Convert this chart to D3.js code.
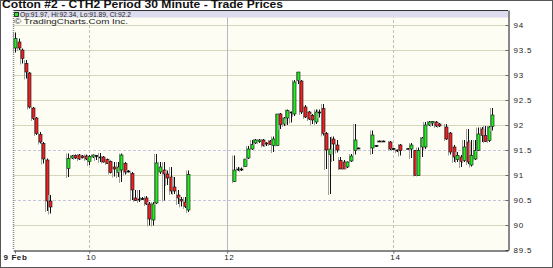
<!DOCTYPE html>
<html>
<head>
<meta charset="utf-8">
<script src="https://cdn.jsdelivr.net/npm/d3@7"></script>
<style>
    body { margin: 0; background: #fff; }
    svg { display: block; }
    text { font-family: "Liberation Sans", Arial, sans-serif; }
</style>
</head>
<body>
<svg id="chart" width="553" height="268"></svg>
<script>
// 30 minute bars, position is the bar slot on the time axis
const slots = [
    0, 1, 2, 3, 4, 5, 6, 7, 8, 9, 10,
    15, 16, 17, 18, 19, 20, 21, 22, 23, 24, 25, 26, 27, 28, 29, 30, 31, 32, 33, 34, 35, 36, 37, 38, 39, 40, 41, 42, 43, 44, 45, 46, 47, 48, 49,
    62, 63, 64, 65, 66, 67, 68, 69, 70, 71, 72, 73, 74, 75, 76, 77, 78, 79, 80, 81, 82, 83, 84, 85, 86, 87, 88, 89, 90, 91, 92, 93, 94, 95, 96, 97,
    101, 102, 103, 104, 106, 107, 108, 109, 111, 112, 113, 114, 115, 116, 117, 118, 119, 120, 122, 123, 124, 125, 126, 127, 128, 129, 130, 131, 132, 133, 134, 135
];
const opens = [
    93.54, 93.66, 93.50, 93.23, 93.04, 92.34, 92.14, 91.81, 91.63, 91.30, 90.48,
    91.13, 91.34, 91.39, 91.40, 91.38, 91.38, 91.27, 91.36, 91.38, 91.36, 91.36, 91.31, 91.27, 91.16, 91.05, 91.10, 91.23, 91.08, 91.03, 90.54, 90.52, 90.53, 90.54, 90.42, 90.10, 90.44, 91.06, 91.10, 91.02, 90.96, 90.76, 90.60, 90.51, 90.46, 90.30,
    90.87, 91.12, 91.11, 91.17, 91.34, 91.52, 91.64, 91.67, 91.70, 91.64, 91.68, 91.59, 91.59, 92.22, 92.02, 92.14, 92.26, 92.22, 92.89, 92.88, 92.36, 92.26, 92.19, 92.06, 92.26, 92.33, 91.83, 91.41, 91.72, 91.60, 91.29, 91.26, 91.16, 91.28, 91.49, 91.54,
    91.54, 91.58, 91.68, 91.68, 91.66, 91.53, 91.50, 91.60, 91.53, 91.52, 91.49, 90.99, 91.56, 91.56, 92.00, 92.04, 92.06, 92.02, 91.96, 91.84, 91.56, 91.31, 91.36, 91.29, 91.66, 91.20, 91.32, 91.49, 91.92, 91.79, 91.69, 91.97
];
const highs = [
    93.85, 93.73, 93.53, 93.30, 93.06, 92.36, 92.16, 91.86, 91.66, 91.33, 90.60,
    91.43, 91.40, 91.41, 91.42, 91.40, 91.41, 91.40, 91.41, 91.40, 91.44, 91.38, 91.33, 91.29, 91.26, 91.26, 91.43, 91.26, 91.10, 91.06, 90.70, 90.70, 90.56, 90.58, 90.46, 90.46, 91.42, 91.26, 91.26, 91.09, 91.16, 90.96, 90.70, 90.56, 90.56, 91.09,
    91.39, 91.16, 91.15, 91.32, 91.58, 91.70, 91.72, 91.72, 91.72, 91.66, 91.70, 91.77, 92.22, 92.24, 92.16, 92.31, 92.27, 92.90, 93.06, 92.90, 92.40, 92.28, 92.22, 92.31, 92.31, 92.42, 91.86, 91.76, 91.77, 91.70, 91.36, 91.30, 91.27, 91.42, 92.02, 91.55,
    91.89, 91.60, 91.69, 91.69, 91.68, 91.54, 91.51, 91.62, 91.54, 91.64, 91.50, 91.55, 91.76, 92.06, 92.08, 92.08, 92.08, 92.04, 92.02, 91.86, 91.60, 91.46, 91.40, 91.70, 91.92, 91.70, 91.70, 91.95, 91.96, 91.98, 91.98, 92.34
];
const lows = [
    93.45, 93.50, 93.23, 92.93, 92.33, 92.10, 91.80, 91.63, 91.23, 90.28, 90.23,
    90.96, 91.32, 91.32, 91.30, 91.33, 91.30, 91.20, 91.34, 91.30, 91.26, 91.25, 91.22, 91.03, 90.97, 90.96, 90.86, 91.01, 91.05, 90.50, 90.48, 90.46, 90.50, 90.40, 89.99, 89.99, 90.42, 91.02, 90.49, 90.80, 90.62, 90.62, 90.42, 90.37, 90.34, 90.26,
    90.86, 91.08, 91.08, 91.17, 91.32, 91.50, 91.62, 91.64, 91.57, 91.58, 91.60, 91.46, 91.59, 91.92, 91.98, 92.00, 92.05, 92.18, 92.82, 92.22, 92.14, 92.10, 92.02, 92.02, 92.15, 91.79, 91.12, 90.62, 91.28, 91.45, 91.12, 91.12, 91.14, 91.26, 91.41, 91.53,
    91.42, 91.56, 91.67, 91.67, 91.50, 91.50, 91.46, 91.39, 91.52, 91.34, 90.99, 90.99, 91.36, 91.52, 91.98, 91.98, 91.96, 91.96, 91.70, 91.41, 91.26, 91.26, 91.16, 91.26, 91.22, 91.17, 91.30, 91.48, 91.66, 91.66, 91.66, 91.89
];
const closes = [
    93.73, 93.54, 93.33, 93.06, 92.36, 92.13, 91.83, 91.66, 91.32, 90.48, 90.36,
    91.33, 91.38, 91.34, 91.32, 91.35, 91.32, 91.37, 91.40, 91.39, 91.36, 91.26, 91.23, 91.05, 91.12, 91.16, 91.40, 91.06, 91.07, 90.70, 90.49, 90.51, 90.52, 90.42, 90.12, 90.42, 91.24, 91.16, 91.02, 90.94, 90.68, 90.68, 90.54, 90.48, 90.37, 91.01,
    91.10, 91.12, 91.12, 91.32, 91.52, 91.61, 91.70, 91.70, 91.59, 91.62, 91.61, 91.72, 92.22, 92.01, 92.14, 92.29, 92.25, 92.86, 93.06, 92.26, 92.16, 92.12, 92.10, 92.26, 92.26, 91.83, 91.50, 91.52, 91.62, 91.50, 91.12, 91.12, 91.26, 91.38, 91.70, 91.54,
    91.80, 91.59, 91.68, 91.68, 91.52, 91.52, 91.49, 91.49, 91.53, 91.60, 90.99, 91.49, 91.74, 92.00, 92.06, 92.07, 91.98, 91.98, 91.72, 91.46, 91.36, 91.39, 91.27, 91.56, 91.26, 91.39, 91.49, 91.82, 91.79, 91.67, 91.96, 92.20
];

// date ticks on the time axis
const dateTickSlots = [0, 21, 60, 107];
const dateTickLabels = ["9 Feb", "10", "12", "14"];
const dateGridStyles = ["none", "dashed", "solid", "dashed"];

const priceTicks = [89.5, 90, 90.5, 91, 91.5, 92, 92.5, 93, 93.5, 94];
const dashedPrices = [90.5, 91.5];

const title = "Cotton #2 - CTH2 Period 30 Minute - Trade Prices";
const lastBar = {op: "91.97", hi: "92.34", lo: "91.89", cl: "92.2"};

const PLOT_LEFT = 13, PLOT_RIGHT = 508, PLOT_TOP = 10, PLOT_BOTTOM = 250;

let svg = d3.select("#chart");

let x = d3.scaleLinear().domain([-0.5, 139.4]).range([PLOT_LEFT + 0.2, PLOT_RIGHT]);
let y = d3.scaleLinear().domain([89.5, 94.3]).range([PLOT_BOTTOM, PLOT_TOP]);

let bars = slots.map((s, i) => ({slot: s, o: opens[i], h: highs[i], l: lows[i], c: closes[i]}));

// outer frame
svg.append("rect")
    .attr("x", 0.5).attr("y", 0.5)
    .attr("width", 552).attr("height", 267)
    .attr("fill", "#fff")
    .attr("stroke", "#555");

svg.append("text")
    .attr("x", 2).attr("y", 8)
    .attr("font-size", 10)
    .attr("font-weight", "bold")
    .attr("fill", "#111")
    .attr("textLength", 281)
    .attr("lengthAdjust", "spacingAndGlyphs")
    .text(title);

// plot background
svg.append("rect")
    .attr("x", PLOT_LEFT).attr("y", PLOT_TOP)
    .attr("width", PLOT_RIGHT - PLOT_LEFT).attr("height", PLOT_BOTTOM - PLOT_TOP)
    .attr("fill", "#fdfdf4");

// horizontal grid
svg.append("g")
    .selectAll("line")
    .data(priceTicks.filter(p => p > 89.5))
    .enter()
    .append("line")
        .attr("x1", PLOT_LEFT).attr("x2", PLOT_RIGHT)
        .attr("y1", d => Math.round(y(d)) + 0.5)
        .attr("y2", d => Math.round(y(d)) + 0.5)
        .attr("stroke", d => dashedPrices.includes(d) ? "#c4c4dc" : "#d6d6bc")
        .attr("stroke-dasharray", d => dashedPrices.includes(d) ? "3,2" : null);

// vertical grid at the date ticks
svg.append("g")
    .selectAll("line")
    .data(dateTickSlots.map((s, i) => ({slot: s, style: dateGridStyles[i]})).filter(d => d.style !== "none"))
    .enter()
    .append("line")
        .attr("x1", d => Math.round(x(d.slot)) + 0.5)
        .attr("x2", d => Math.round(x(d.slot)) + 0.5)
        .attr("y1", PLOT_TOP).attr("y2", PLOT_BOTTOM)
        .attr("stroke", d => d.style === "dashed" ? "#c0c0c0" : "#b8b8c4")
        .attr("stroke-dasharray", d => d.style === "dashed" ? "3,2" : null);

// legend band
svg.append("rect")
    .attr("x", PLOT_LEFT + 1).attr("y", PLOT_TOP + 1)
    .attr("width", PLOT_RIGHT - PLOT_LEFT - 1).attr("height", 6.5)
    .attr("fill", "#dcdcee");

svg.append("rect")
    .attr("x", 14.5).attr("y", 12.5)
    .attr("width", 4).attr("height", 4)
    .attr("fill", "#2ee02e")
    .attr("stroke", "#111").attr("stroke-width", 0.8);

svg.append("text")
    .attr("x", 20).attr("y", 16.8)
    .attr("font-size", 7)
    .attr("fill", "#222")
    .attr("textLength", 111)
    .attr("lengthAdjust", "spacingAndGlyphs")
    .text(`Op:${lastBar.op}, Hi:${lastBar.hi}, Lo:${lastBar.lo}, Cl:${lastBar.cl}`);

svg.append("text")
    .attr("x", 14).attr("y", 24.3)
    .attr("font-size", 7)
    .attr("fill", "#222")
    .attr("textLength", 114)
    .attr("lengthAdjust", "spacingAndGlyphs")
    .text("\u00a9 TradingCharts.Com Inc.");

// candles
let candle = svg.append("g")
    .selectAll("g")
    .data(bars)
    .enter()
    .append("g")
        .attr("transform", d => "translate(" + Math.round(x(d.slot)) + ",0)");

//grey shadow left of each bar
candle.append("line")
    .attr("x1", -1.5).attr("x2", -1.5)
    .attr("y1", d => y(d.h))
    .attr("y2", d => y(d.l) + 1)
    .attr("stroke", "#a0a0a0")
    .attr("stroke-width", 1);

candle.append("line")
    .attr("x1", 0.5).attr("x2", 0.5)
    .attr("y1", d => y(d.h))
    .attr("y2", d => y(d.l))
    .attr("stroke", "#111")
    .attr("stroke-width", 1);

candle.append("rect")
    .attr("x", -1)
    .attr("width", 3)
    .attr("y", d => y(Math.max(d.o, d.c)))
    .attr("height", d => Math.max(1, Math.abs(y(d.o) - y(d.c))))
    .attr("fill", d => {
        if (Math.abs(d.o - d.c) < 0.015) return "#111";
        return d.c > d.o ? "#22ee22" : "#ee2222";
    })
    .attr("stroke", "#111")
    .attr("stroke-width", 0.6);

// plot border
svg.append("line")
    .attr("x1", PLOT_LEFT).attr("x2", PLOT_RIGHT)
    .attr("y1", PLOT_TOP + 0.5).attr("y2", PLOT_TOP + 0.5)
    .attr("stroke", "#333");
svg.append("line")
    .attr("x1", PLOT_LEFT + 0.5).attr("x2", PLOT_LEFT + 0.5)
    .attr("y1", PLOT_TOP).attr("y2", PLOT_BOTTOM)
    .attr("stroke", "#888")
    .attr("stroke-width", 1.5)
    .attr("stroke-dasharray", "1,1");

// price axis on the right
let yAxis = d3.axisRight(y)
    .tickValues(priceTicks)
    .tickFormat(d3.format("~g"))
    .tickSizeInner(-3)
    .tickSizeOuter(0)
    .tickPadding(5);

svg.append("g")
    .attr("transform", "translate(" + (PLOT_RIGHT + 0.5) + ",0)")
    .call(yAxis)
    .call(g => g.select(".domain").attr("stroke", "#111"))
    .call(g => g.selectAll(".tick line").attr("stroke", "#666"))
    .call(g => g.selectAll("text")
        .attr("font-family", "Liberation Sans, Arial, sans-serif")
        .attr("font-size", 8)
        .attr("letter-spacing", 0.8)
        .attr("fill", "#222"));

// time axis at the bottom
let xAxis = d3.axisBottom(x)
    .tickValues(dateTickSlots)
    .tickFormat((d, i) => dateTickLabels[i])
    .tickSizeInner(3)
    .tickSizeOuter(0)
    .tickPadding(1);

svg.append("g")
    .attr("transform", "translate(0," + (PLOT_BOTTOM + 0.5) + ")")
    .call(xAxis)
    .call(g => g.select(".domain").attr("stroke", "#111"))
    .call(g => g.selectAll(".tick line").attr("stroke", "#666"))
    .call(g => g.selectAll("text")
        .attr("font-family", "Liberation Sans, Arial, sans-serif")
        .attr("font-size", 8)
        .attr("letter-spacing", 0.6)
        .attr("fill", "#222")
        .attr("dx", (d, i) => i === 0 ? 0 : 1.5)
        .attr("font-weight", (d, i) => i === 0 ? "bold" : "normal"));
</script>
</body>
</html>
